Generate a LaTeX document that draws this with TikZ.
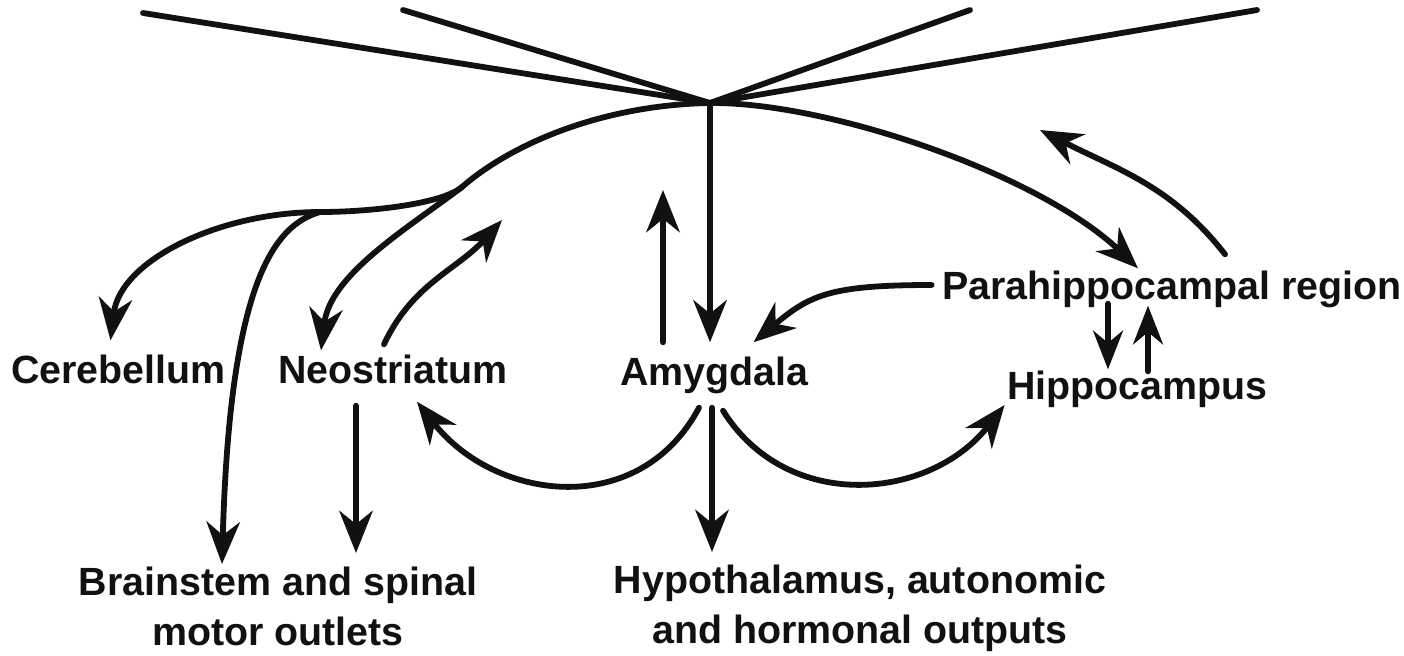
\documentclass[tikz,border=0pt]{standalone}
\usepackage{fontspec}
\setmainfont{Liberation Sans}
\usepackage{xcolor}
\usepackage{tikz}
\usetikzlibrary{arrows.meta}
\definecolor{NInk}{HTML}{111111}

\begin{document}
\begin{tikzpicture}[
  every node/.style={align=center, font=\fontsize{11.2}{14.2}\selectfont\bfseries, text=NInk, inner sep=4pt},
  lbl/.style={text height=0.8em, text depth=0.22em},
  tract/.style={draw=NInk, line width=1.65pt, line cap=round},
  proj/.style={tract, -{Stealth[length=12pt, width=9.5pt, inset=3.8pt]}},
  shortproj/.style={tract, -{Stealth[length=11pt, width=8.5pt, inset=3.5pt]}}
]
  \useasboundingbox (0,0) rectangle (14.04,-6.55);

  \node[lbl] (cereb) at (1.185,-3.73)  {Cerebellum};
  \node[lbl] (neo)   at (3.93,-3.73)   {Neostriatum};
  \node[lbl] (amyg)  at (7.145,-3.75)  {Amygdala};
  \node[lbl] (para)  at (11.72,-2.89)  {Parahippocampal region};
  \node[lbl] (hippo) at (11.375,-3.89) {Hippocampus};
  \node[anchor=north] (brain) at (2.78,-5.52) {Brainstem and spinal\\motor outlets};
  \node[anchor=north] (hypo)  at (8.60,-5.50) {Hypothalamus, autonomic\\and hormonal outputs};

  \coordinate (hub) at (7.10,-1.03);
  \coordinate (t1) at (1.43,-0.13);
  \coordinate (t2) at (4.03,-0.10);
  \coordinate (t3) at (9.70,-0.10);
  \coordinate (t4) at (12.57,-0.10);
  \coordinate (k1) at (4.62,-1.87);
  \coordinate (k2) at (3.20,-2.12);
  \coordinate (neoOut)  at (5.02,-2.20);
  \coordinate (amygOut) at (6.63,-1.90);
  \coordinate (paraOut) at (10.40,-1.30);

  \foreach \t in {t1,t2,t3,t4}
    \draw[tract] (hub) -- (\t);

  \draw[proj] (hub) -- ([xshift=-0.045cm]amyg.north);
  \draw[proj] (hub) .. controls (6.0,-1.05) and (5.1,-1.45) .. (k1)
     .. controls (4.42,-2.04) and (3.7,-2.12) .. (k2)
     .. controls (2.2,-2.12) and (1.2,-2.6) .. ([xshift=-0.08cm]cereb.north);
  \draw[proj] (hub) .. controls (8.3,-1.02) and (10.4,-1.75) .. ([shift={(-0.34,-0.12)}]para.north);
  \draw[proj] (k1) .. controls (4.05,-2.3) and (3.3,-2.75) .. ([shift={(-0.72,-0.10)}]neo.north);
  \draw[proj] (k2) .. controls (2.75,-2.25) and (2.3,-2.8) .. ([shift={(-0.56,-0.12)}]brain.north);

  \draw[proj] ([shift={(-0.09,-0.04)}]neo.north) to[out=65,in=-132] (neoOut);
  \draw[proj] ([xshift=-0.37cm]neo.south) -- ([shift={(0.78,-0.01)}]brain.north);
  \draw[proj] ([xshift=-0.515cm]amyg.north) -- (amygOut);
  \draw[proj] ([xshift=-0.155cm]amyg.south) to[out=-118,in=-52,looseness=1.15] ([shift={(0.24,0.04)}]neo.south);
  \draw[proj] ([xshift=-0.025cm]amyg.south) -- ([shift={(-1.48,-0.02)}]hypo.north);
  \draw[proj] ([shift={(0.085,-0.03)}]amyg.south) to[out=-58,in=-128,looseness=1.1] ([shift={(0.12,-0.16)}]hippo.west);

  \draw[proj] ([shift={(0.04,0.04)}]para.west) to[out=180,in=40,out looseness=1.4] ([xshift=0.39cm]amyg.north);
  \draw[proj] ([shift={(0.53,0.02)}]para.north) to[out=128,in=-27] (paraOut);
  \draw[shortproj] ([shift={(-0.64,0.18)}]para.south) -- ([shift={(-0.295,-0.13)}]hippo.north);
  \draw[shortproj] ([shift={(0.105,-0.15)}]hippo.north) -- ([shift={(-0.24,0.16)}]para.south);
\end{tikzpicture}
\end{document}
